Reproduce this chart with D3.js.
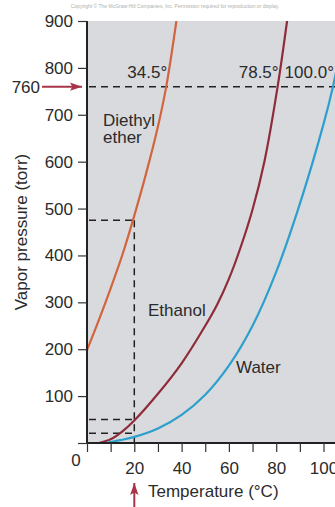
<!DOCTYPE html>
<html>
<head>
<meta charset="utf-8">
<script src="https://cdn.jsdelivr.net/npm/d3@7"></script>
<style>
  body { margin: 0; background: #fff; }
  text { font-family: "Liberation Sans", Arial, sans-serif; fill: #2b2b2b; }
</style>
</head>
<body>
<div id="chart"></div>
<script>
const width = 335;
const height = 507;

// data (temperature in C, vapor pressure in torr)
const ether_t = [0, 5, 10, 15, 20, 25, 30, 33.5, 37.8];
const ether_p = [198, 262, 330, 402, 485, 575, 675, 760, 900];
const ethanol_t = [5, 10, 15, 20, 30, 40, 50, 55, 60, 65, 70, 75, 80.6, 85];
const ethanol_p = [0, 8, 25, 48, 105, 170, 250, 295, 350, 418, 498, 600, 760, 915];
const water_t = [8, 14, 20, 30, 40, 50, 60, 70, 80, 90, 100, 104, 108];
const water_p = [0, 6, 13, 31, 60, 103, 165, 250, 365, 510, 680, 760, 860];
const y_ticks = [0, 100, 200, 300, 400, 500, 600, 700, 800, 900];
const x_ticks = [0, 10, 20, 30, 40, 50, 60, 70, 80, 90, 100];
const x_labels = [20, 40, 60, 80, 100];
const boiling = [
  { label: '34.5°', t: 33.5 },
  { label: '78.5°', t: 80.6 },
  { label: '100.0°', t: 104 }
];
const guide_p = [475, 50, 21];
const guide_t = 20;
const atm = 760;

const x_scale = d3.scaleLinear().domain([0, 100]).range([87, 323.5]);
const y_scale = d3.scaleLinear().domain([0, 900]).range([443, 21]);

const svg = d3.select('#chart')
  .append('svg')
    .attr('width', width)
    .attr('height', height);

const defs = svg.append('defs');
defs.append('clipPath').attr('id', 'plot-clip')
  .append('rect')
    .attr('x', x_scale(0)).attr('y', y_scale(900))
    .attr('width', width - x_scale(0)).attr('height', y_scale(0) - y_scale(900));
defs.append('marker')
    .attr('id', 'arrow')
    .attr('viewBox', '0 0 10 10')
    .attr('refX', 10).attr('refY', 5)
    .attr('markerWidth', 6).attr('markerHeight', 4.2)
    .attr('preserveAspectRatio', 'none')
    .attr('orient', 'auto')
  .append('path')
    .attr('d', 'M0,0 L10,5 L0,10 L2,5 z')
    .attr('fill', '#a8344a');

// copyright strip
svg.append('text')
  .attr('x', 175).attr('y', 8)
  .attr('text-anchor', 'middle')
  .style('font-size', '5px')
  .style('fill', '#b0b0b0')
  .text('Copyright © The McGraw-Hill Companies, Inc. Permission required for reproduction or display.');

// plot background
svg.append('rect')
  .attr('x', x_scale(0)).attr('y', y_scale(900))
  .attr('width', width - x_scale(0)).attr('height', y_scale(0) - y_scale(900))
  .attr('fill', '#d9dadd');

// dashed guides
const guides = svg.append('g')
  .attr('stroke', '#222').attr('stroke-width', 1.5)
  .attr('stroke-dasharray', '7,5').attr('fill', 'none');
guides.append('line')
  .attr('x1', x_scale(0) + 2).attr('x2', width)
  .attr('y1', y_scale(atm)).attr('y2', y_scale(atm));
guides.selectAll('.hguide')
    .data(guide_p)
  .join('line')
    .attr('class', 'hguide')
    .attr('x1', x_scale(0) + 2).attr('x2', x_scale(guide_t))
    .attr('y1', d => y_scale(d)).attr('y2', d => y_scale(d));
guides.append('line')
  .attr('x1', x_scale(guide_t)).attr('x2', x_scale(guide_t))
  .attr('y1', y_scale(d3.max(guide_p))).attr('y2', y_scale(0));

// curves
const curves = [
  { name: 'ether', t: ether_t, p: ether_p, color: '#d2643f' },
  { name: 'ethanol', t: ethanol_t, p: ethanol_p, color: '#8e2c3b' },
  { name: 'water', t: water_t, p: water_p, color: '#2c9fcd' }
];
const line = d3.line()
  .x(d => x_scale(d[0]))
  .y(d => y_scale(d[1]))
  .curve(d3.curveCatmullRom.alpha(0.5));
svg.append('g')
    .attr('clip-path', 'url(#plot-clip)')
  .selectAll('path')
    .data(curves)
  .join('path')
    .attr('d', d => line(d3.zip(d.t, d.p)))
    .attr('fill', 'none')
    .attr('stroke', d => d.color)
    .attr('stroke-width', 2.2);

// axes
const y_axis = svg.append('g')
  .attr('transform', `translate(${x_scale(0)},0)`)
  .call(d3.axisLeft(y_scale).tickValues(y_ticks)
    .tickFormat(d => d === 0 ? '' : d).tickSize(9).tickPadding(5));
const x_axis = svg.append('g')
  .attr('transform', `translate(0,${y_scale(0)})`)
  .call(d3.axisBottom(x_scale).tickValues(x_ticks)
    .tickFormat(d => x_labels.includes(d) ? d : '').tickSize(9).tickPadding(10));
[y_axis, x_axis].forEach(ax => {
  ax.select('.domain').attr('stroke', '#222').attr('stroke-width', 2);
  ax.selectAll('.tick line').attr('stroke', '#333').attr('stroke-width', 1.2);
  ax.selectAll('.tick text')
    .style('font-size', '17px')
    .style('font-family', '"Liberation Sans", Arial, sans-serif')
    .attr('fill', '#2b2b2b');
});
y_axis.select('.domain').attr('d', `M0,${y_scale(900)}V${y_scale(0)}`);
x_axis.select('.domain').attr('d', `M${x_scale(0)},0H${width}`);

svg.append('text')
  .attr('x', 76).attr('y', 466)
  .attr('text-anchor', 'middle')
  .style('font-size', '17px')
  .text('0');

// axis titles
svg.append('text')
  .attr('transform', `translate(27,${(y_scale(0) + y_scale(900)) / 2}) rotate(-90)`)
  .attr('text-anchor', 'middle')
  .style('font-size', '17px')
  .text('Vapor pressure (torr)');
svg.append('text')
  .attr('x', 148).attr('y', 497)
  .style('font-size', '17px')
  .text('Temperature (°C)');

// arrows
svg.append('line')
  .attr('x1', 42).attr('x2', 82)
  .attr('y1', y_scale(atm)).attr('y2', y_scale(atm))
  .attr('stroke', '#a8344a').attr('stroke-width', 2)
  .attr('marker-end', 'url(#arrow)');
svg.append('line')
  .attr('x1', x_scale(guide_t)).attr('x2', x_scale(guide_t))
  .attr('y1', height).attr('y2', 483)
  .attr('stroke', '#a8344a').attr('stroke-width', 2)
  .attr('marker-end', 'url(#arrow)');
svg.append('text')
  .attr('x', 40).attr('y', y_scale(atm) + 6)
  .attr('text-anchor', 'end')
  .style('font-size', '17px')
  .text(atm);

// boiling point labels
svg.selectAll('.bp')
    .data(boiling)
  .join('text')
    .attr('class', 'bp')
    .attr('x', d => x_scale(d.t) + 1)
    .attr('y', 78)
    .attr('text-anchor', 'end')
    .style('font-size', '17px')
    .text(d => d.label);

// curve names
const names = [
  { text: 'Diethyl', x: 103, y: 126 },
  { text: 'ether', x: 103, y: 143 },
  { text: 'Ethanol', x: 148, y: 316 },
  { text: 'Water', x: 236, y: 373 }
];
svg.selectAll('.name')
    .data(names)
  .join('text')
    .attr('class', 'name')
    .attr('x', d => d.x).attr('y', d => d.y)
    .style('font-size', '17px')
    .text(d => d.text);
</script>
</body>
</html>
